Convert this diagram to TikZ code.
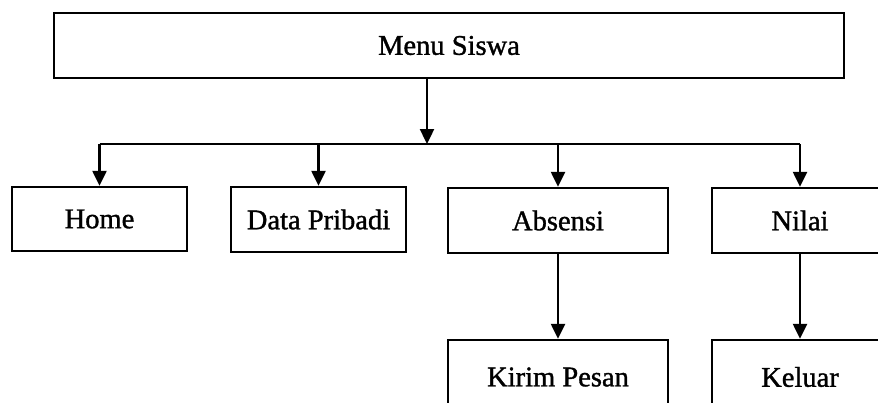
\documentclass[tikz,border=0pt]{standalone}
\usepackage{fontspec}
\setmainfont{Liberation Serif}[BoldFont=Liberation Serif, BoldFeatures={FakeBold=1.2}]
\usetikzlibrary{arrows.meta}
\begin{document}
\begin{tikzpicture}[x=1pt,y=1pt,
  menubox/.style={draw, line width=2.4pt, rectangle, inner sep=0pt,
    font=\fontsize{28.5}{34}\selectfont\bfseries},
  arr/.style={line width=2.4pt, -{Triangle[width=14pt,length=15pt]}},
  bus/.style={line width=2.4pt}]
\useasboundingbox (0,0) rectangle (878,-402);
\clip (0,0) rectangle (878,-402);
% top level
\node[menubox, minimum width=790pt, minimum height=65pt] (menu) at (449,-45.5) {Menu Siswa};
% first level
\node[menubox, minimum width=175pt, minimum height=64pt] (home) at (99.5,-219) {Home};
\node[menubox, minimum width=175pt, minimum height=65pt] (data) at (318.5,-219.5) {Data Pribadi};
\node[menubox, minimum width=220pt, minimum height=65pt] (absen) at (558,-220.5) {Absensi};
\node[menubox, minimum width=176pt, minimum height=65pt] (nilai) at (800,-220.5) {Nilai};
% second level
\node[menubox, minimum width=220pt, minimum height=74pt] (kirim) at (558,-377) {Kirim Pesan};
\node[menubox, minimum width=176pt, minimum height=74pt] (keluar) at (800,-377) {Keluar};
% distribution line
\coordinate (hub) at (427,-144);
\draw[bus] (home.north |- hub) -- (nilai.north |- hub);
\draw[arr] (menu.south -| hub) -- (hub);
\foreach \n in {home,data,absen,nilai}
  \draw[arr] (\n.north |- hub) -- (\n.north);
\draw[arr] (absen.south) -- (kirim.north);
\draw[arr] (nilai.south) -- (keluar.north);
\end{tikzpicture}
\end{document}
